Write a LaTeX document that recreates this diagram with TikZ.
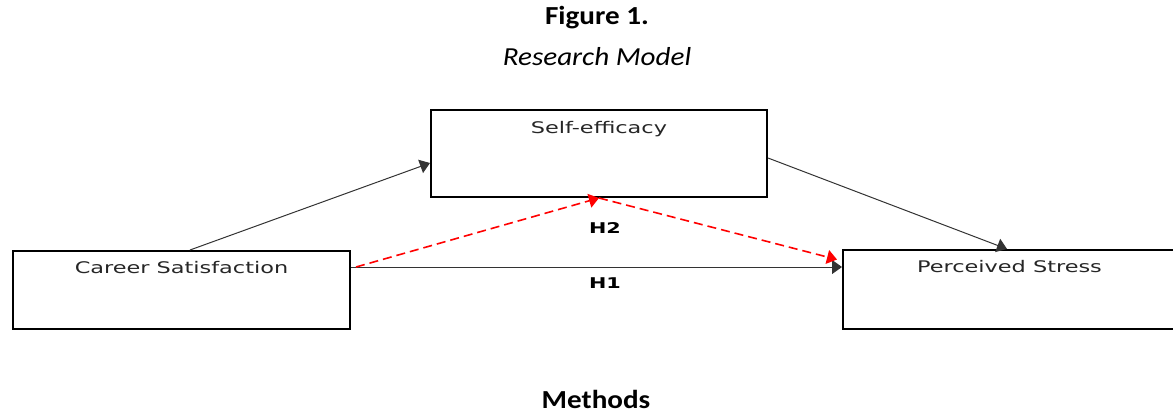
\documentclass[tikz,border=0pt]{standalone}
\usepackage{fontspec}
\setmainfont[FakeStretch=1.12]{Carlito}
\newfontfamily\boxfont[FakeStretch=1.4]{DejaVu Sans}
\usepackage{tikz}
\usetikzlibrary{arrows.meta, positioning}
\usepackage{xcolor}

\begin{document}
\begin{tikzpicture}[x=0.5pt, y=-0.5pt,
		varbox/.style={draw, line width=1pt, inner sep=0pt},
		varname/.style={font=\boxfont\fontsize{8}{10}\selectfont, text=black!85, inner sep=0pt},
		hyp/.style={font=\boxfont\bfseries\fontsize{7.4}{9}\selectfont, inner sep=0pt},
		arr/.style={-{Triangle[width=7pt, length=5pt]}, line width=0.5pt, black!80},
		medarr/.style={-{Triangle[width=7pt, length=5pt]}, line width=0.8pt, red, dash pattern=on 4.5pt off 2.5pt}]
		\useasboundingbox (0,0) rectangle (1173,413);
		% title
		\node[font=\bfseries\fontsize{13}{15}\selectfont] (fig) at (597,18) {Figure 1.};
		\node[font=\itshape\fontsize{13}{15}\selectfont] (model) at (597,57) {Research Model};
		\node[font=\bfseries\fontsize{13}{15}\selectfont] (methods) at (596,399) {Methods};

		% variables
		\node[varbox, minimum width=168pt, minimum height=43.5pt] (self) at (599,153.5) {};
		\node[varbox, minimum width=168.5pt, minimum height=39pt] (career) at (181.5,290) {};
		\node[varbox, minimum width=166.5pt, minimum height=39.5pt] (stress) at (1009.5,289.5) {};
		\node[varname, below=6pt of self.north] (selftxt) {Self-efficacy};
		\node[varname, below=5.5pt of career.north] (careertxt) {Career Satisfaction};
		\node[varname, below=5.5pt of stress.north] (stresstxt) {Perceived Stress};

		% paths
		\draw[arr] ([xshift=4.25pt]career.north) -- ([yshift=-4.75pt]self.west);
		\draw[arr] ([yshift=-2.25pt]self.east) -- ([xshift=-1.25pt]stress.north);
		\draw[arr] (career.east |- 0,267) -- (stress.west |- 0,267);
		\draw[medarr] ([xshift=2.5pt, yshift=11.5pt]career.east) -- (self.south);
		\draw[medarr] (self.south) -- ([xshift=-2.5pt, yshift=15pt]stress.west);

		% hypotheses
		\node[hyp] (h2) at (605,228) {H2};
		\node[hyp] (h1) at (605,283) {H1};
	\end{tikzpicture}
\end{document}
